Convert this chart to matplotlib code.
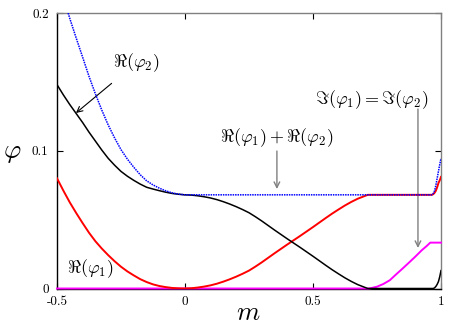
import numpy as np
import matplotlib
matplotlib.use('Agg')
import matplotlib.pyplot as plt

plt.rcParams['mathtext.fontset'] = 'cm'

# Re(phi_2), black
m_black = [-0.5, -0.475, -0.45, -0.425, -0.4, -0.375, -0.35, -0.325, -0.3, -0.275,
           -0.25, -0.225, -0.2, -0.175, -0.15, -0.125, -0.1, -0.075, -0.05, -0.025, 0.0,
           0.025, 0.05, 0.075, 0.1, 0.125, 0.15, 0.175, 0.2, 0.225, 0.25, 0.275, 0.3,
           0.325, 0.35, 0.375, 0.4, 0.425, 0.45, 0.475, 0.5, 0.525, 0.55, 0.575, 0.6,
           0.625, 0.65, 0.675, 0.7, 0.714, 0.97, 0.975, 0.98, 0.985, 0.99, 0.995, 1.0]
re_phi2 = [0.148, 0.1405, 0.1335, 0.127, 0.1205, 0.1135, 0.107, 0.1005, 0.0945, 0.0895,
           0.085, 0.0815, 0.0785, 0.0758, 0.0735, 0.0722, 0.071, 0.0699, 0.069, 0.0684, 0.068,
           0.0678, 0.0673, 0.0666, 0.0657, 0.0645, 0.063, 0.0613, 0.0594, 0.0573, 0.055,
           0.0521, 0.049, 0.0457, 0.0424, 0.0392, 0.036, 0.0329, 0.0298, 0.0266, 0.0234,
           0.0201, 0.0168, 0.0136, 0.0106, 0.0077, 0.0051, 0.0028, 0.001, 0.0,
           0.0, 0.0005, 0.0015, 0.003, 0.005, 0.0085, 0.013]

# Re(phi_1), red
m_red = [-0.5, -0.475, -0.45, -0.425, -0.4, -0.375, -0.35, -0.325, -0.3, -0.275,
         -0.25, -0.225, -0.2, -0.175, -0.15, -0.125, -0.1, -0.075, -0.05, -0.025, 0.0,
         0.025, 0.05, 0.075, 0.1, 0.125, 0.15, 0.175, 0.2, 0.225, 0.25, 0.275, 0.3,
         0.325, 0.35, 0.375, 0.4, 0.425, 0.45, 0.475, 0.5, 0.525, 0.55, 0.575, 0.6,
         0.625, 0.65, 0.675, 0.7, 0.714, 0.964, 0.97, 0.975, 0.98, 0.985, 0.99, 0.995, 1.0]
re_phi1 = [0.080, 0.071, 0.0625, 0.0548, 0.0475, 0.0405, 0.0343, 0.029, 0.0242, 0.0198,
           0.0158, 0.0124, 0.0095, 0.0068, 0.0047, 0.003, 0.0018, 0.001, 0.0004, 0.0001, 0.0,
           0.0002, 0.0007, 0.0014, 0.0023, 0.0035, 0.005, 0.0067, 0.0086, 0.0107, 0.013,
           0.0159, 0.019, 0.0223, 0.0256, 0.0288, 0.032, 0.0351, 0.0382, 0.0414, 0.0446,
           0.0479, 0.0512, 0.0544, 0.0574, 0.0603, 0.0629, 0.0652, 0.067, 0.068,
           0.068, 0.0685, 0.0695, 0.071, 0.0735, 0.0765, 0.0785, 0.081]

# Re(phi_1) + Re(phi_2), blue dotted
m_blue = [-0.5, -0.475, -0.45, -0.425, -0.4, -0.375, -0.35, -0.325, -0.3, -0.275,
          -0.25, -0.225, -0.2, -0.175, -0.15, -0.125, -0.1, -0.075, -0.05, -0.025, 0.0,
          0.964, 0.97, 0.975, 0.98, 0.985, 0.99, 0.995, 1.0]
re_sum = [0.228, 0.2115, 0.196, 0.1818, 0.168, 0.154, 0.1413, 0.1295, 0.1187, 0.1093,
          0.1008, 0.0939, 0.088, 0.0826, 0.0782, 0.0752, 0.0728, 0.0709, 0.0694, 0.0685, 0.068,
          0.068, 0.069, 0.071, 0.075, 0.080, 0.085, 0.090, 0.0945]

# Im(phi_1) = Im(phi_2), magenta
m_mag = [-0.5, 0.714, 0.725, 0.75, 0.775, 0.8, 0.825, 0.85, 0.875, 0.9, 0.925, 0.945,
         0.958, 1.0]
im_phi = [0.0, 0.0, 0.0002, 0.0013, 0.0033, 0.006, 0.0103, 0.0145, 0.0188, 0.0232,
          0.0278, 0.031, 0.0333, 0.0333]

fig = plt.figure(figsize=(4.52, 3.26), dpi=100)
ax = fig.add_axes([57 / 452, 1 - 288.5 / 326, 384 / 452, 275.5 / 326])

ax.plot(m_mag, im_phi, color='#ff00ff', lw=1.4, clip_on=False, zorder=3)
ax.plot(m_red, re_phi1, color='#ff0000', lw=1.4, zorder=4)
ax.plot(m_black, re_phi2, color='black', lw=1.1, zorder=5)
ax.plot(m_blue, re_sum, color='#0000ff', lw=1.1, ls=(0, (1, 0.6)), zorder=6)

ax.set_xlim(-0.5, 1)
ax.set_ylim(0, 0.2)

ax.set_xticks([-0.5, 0, 0.5, 1])
ax.set_xticklabels(['-0.5', '0', '0.5', '1'], fontfamily='cmr10', fontsize=9.5)
ax.set_yticks([0, 0.1, 0.2])
ax.set_yticklabels(['0', '0.1', '0.2'], fontfamily='cmr10', fontsize=9.5)
ax.tick_params(direction='in', length=4, width=0.8, top=True, right=True, pad=5)
ax.tick_params(axis='y', pad=6)

for side in ['top', 'right']:
    ax.spines[side].set_color('#808080')
for side in ['left', 'bottom']:
    ax.spines[side].set_color('black')
for s in ax.spines.values():
    s.set_linewidth(1.0)

fig.text(248 / 452, 1 - 313 / 326, '$m$', fontsize=19, ha='center', va='center')
fig.text(12 / 452, 1 - 152 / 326, r'$\varphi$', fontsize=19, ha='center', va='center')

ax.annotate(r'$\Re(\varphi_2)$', xy=(-0.426, 0.1274), xytext=(-0.191, 0.1637),
            fontsize=13, ha='center', va='center',
            arrowprops=dict(arrowstyle='->', color='black', lw=0.8,
                            shrinkA=7, shrinkB=0, mutation_scale=10))
ax.text(-0.371, 0.0142, r'$\Re(\varphi_1)$', fontsize=13, ha='center', va='center')

ax.text(0.359, 0.1093, r'$\Re(\varphi_1) + \Re(\varphi_2)$', fontsize=13,
        ha='center', va='center')
ax.annotate('', xy=(0.359, 0.0722), xytext=(0.359, 0.0998),
            arrowprops=dict(arrowstyle='->', color='#808080', lw=1.0,
                            shrinkA=0, shrinkB=0, mutation_scale=10))

ax.text(0.730, 0.1369, r'$\Im(\varphi_1) = \Im(\varphi_2)$', fontsize=13,
        ha='center', va='center')
ax.annotate('', xy=(0.910, 0.0294), xytext=(0.910, 0.1303),
            arrowprops=dict(arrowstyle='->', color='#808080', lw=1.0,
                            shrinkA=0, shrinkB=0, mutation_scale=10))

fig.savefig('out.png', dpi=100)
